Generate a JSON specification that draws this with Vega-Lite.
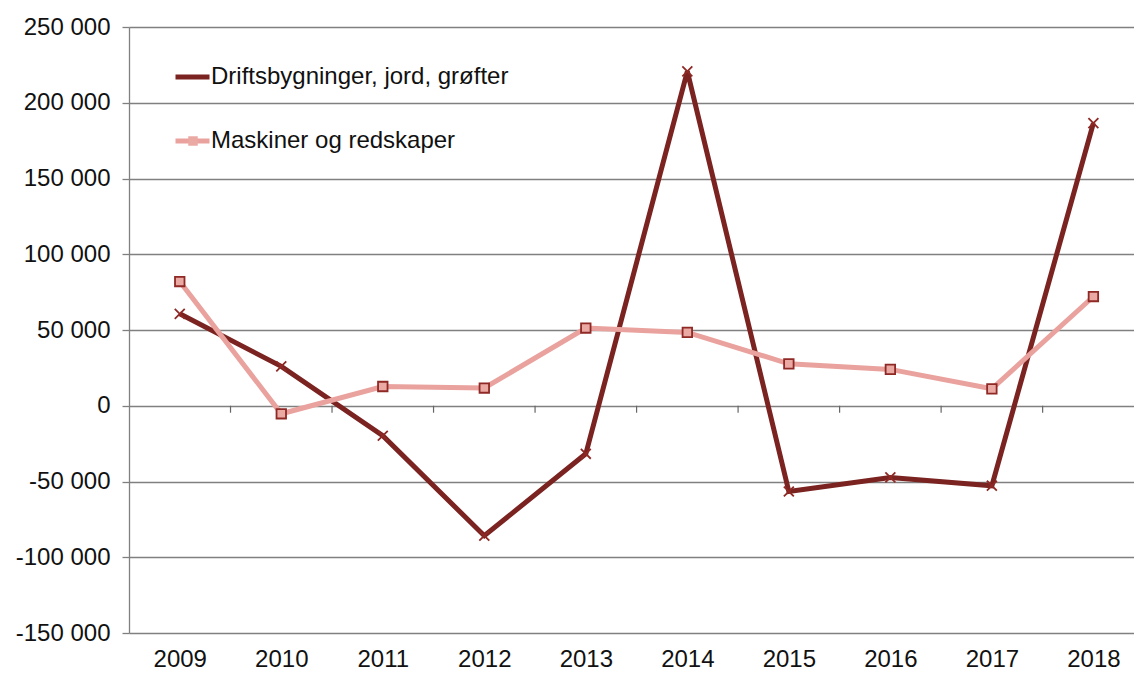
{
  "$schema": "https://vega.github.io/schema/vega-lite/v6.json",
  "width": 1005,
  "height": 606,
  "autosize": {"type": "none"},
  "padding": {"left": 129, "top": 27, "right": 0, "bottom": 42},
  "background": "white",
  "config": {
    "view": {"stroke": null},
    "font": "Liberation Sans",
    "axis": {"labelFont": "Liberation Sans", "labelFontSize": 24, "labelColor": "#111111"},
    "legend": {"labelFont": "Liberation Sans", "labelFontSize": 24, "labelColor": "#111111", "labelLimit": 600}
  },
  "datasets": {
    "series": [
      {"year": 2009, "series": "Driftsbygninger, jord, grøfter", "value": 60700},
      {"year": 2010, "series": "Driftsbygninger, jord, grøfter", "value": 26000},
      {"year": 2011, "series": "Driftsbygninger, jord, grøfter", "value": -19800},
      {"year": 2012, "series": "Driftsbygninger, jord, grøfter", "value": -85800},
      {"year": 2013, "series": "Driftsbygninger, jord, grøfter", "value": -31700},
      {"year": 2014, "series": "Driftsbygninger, jord, grøfter", "value": 220700},
      {"year": 2015, "series": "Driftsbygninger, jord, grøfter", "value": -56600},
      {"year": 2016, "series": "Driftsbygninger, jord, grøfter", "value": -47300},
      {"year": 2017, "series": "Driftsbygninger, jord, grøfter", "value": -52800},
      {"year": 2018, "series": "Driftsbygninger, jord, grøfter", "value": 186600},
      {"year": 2009, "series": "Maskiner og redskaper", "value": 82000},
      {"year": 2010, "series": "Maskiner og redskaper", "value": -5300},
      {"year": 2011, "series": "Maskiner og redskaper", "value": 12700},
      {"year": 2012, "series": "Maskiner og redskaper", "value": 11700},
      {"year": 2013, "series": "Maskiner og redskaper", "value": 51300},
      {"year": 2014, "series": "Maskiner og redskaper", "value": 48400},
      {"year": 2015, "series": "Maskiner og redskaper", "value": 27700},
      {"year": 2016, "series": "Maskiner og redskaper", "value": 24000},
      {"year": 2017, "series": "Maskiner og redskaper", "value": 11200},
      {"year": 2018, "series": "Maskiner og redskaper", "value": 72100}
    ],
    "boundaries": [
      {"b": 2009.5}, {"b": 2010.5}, {"b": 2011.5}, {"b": 2012.5}, {"b": 2013.5},
      {"b": 2014.5}, {"b": 2015.5}, {"b": 2016.5}, {"b": 2017.5}
    ]
  },
  "layer": [
    {
      "data": {"name": "boundaries"},
      "mark": {"type": "rule", "color": "#666666", "strokeWidth": 1.2},
      "encoding": {
        "x": {"field": "b", "type": "quantitative", "scale": {"domain": [2008.5, 2018.4], "nice": false, "zero": false},
          "axis": {"values": [2009, 2010, 2011, 2012, 2013, 2014, 2015, 2016, 2017, 2018], "format": "d", "title": null, "grid": false, "ticks": false, "domain": false, "labelPadding": 14}},
        "y": {"datum": 0, "type": "quantitative"},
        "y2": {"datum": -4600}
      }
    },
    {
      "data": {"name": "series"},
      "mark": {"type": "line", "strokeWidth": 5, "strokeJoin": "miter"},
      "encoding": {
        "x": {"field": "year", "type": "quantitative"},
        "y": {"field": "value", "type": "quantitative",
          "scale": {"domain": [-150000, 250000], "nice": false},
          "axis": {"values": [-150000, -100000, -50000, 0, 50000, 100000, 150000, 200000, 250000], "title": null,
            "grid": true, "gridColor": "#808080", "gridWidth": 1.3,
            "domainColor": "#808080", "domainWidth": 1.3, "tickColor": "#808080", "tickWidth": 1.3, "tickSize": 7,
            "labelPadding": 12,
            "labelExpr": "replace(replace(format(datum.value, ','), regexp(',', 'g'), ' '), '−', '-')"}},
        "color": {"field": "series", "type": "nominal",
          "scale": {"domain": ["Driftsbygninger, jord, grøfter", "Maskiner og redskaper"], "range": ["#7A2320", "#E9A29D"]},
          "legend": {"orient": "none", "legendX": 44, "legendY": 38, "title": null, "symbolType": "stroke", "symbolSize": 1156, "symbolStrokeWidth": 5, "rowPadding": 40, "clipHeight": 24, "labelOffset": -1}}
      }
    },
    {
      "data": {"name": "series"},
      "mark": {"type": "point", "size": 90, "stroke": "#8E2925", "strokeWidth": 1.8, "opacity": 1},
      "encoding": {
        "x": {"field": "year", "type": "quantitative"},
        "y": {"field": "value", "type": "quantitative"},
        "shape": {"field": "series", "type": "nominal",
          "scale": {"range": ["M-1.05,-1.05L1.05,1.05M-1.05,1.05L1.05,-1.05", "square"]},
          "legend": {"orient": "none", "legendX": 52, "legendY": 38, "title": null, "rowPadding": 40, "clipHeight": 24, "symbolSize": 90, "labelExpr": "''", "symbolStrokeColor": "#8E2925", "symbolStrokeWidth": 1.8}},
        "fill": {"field": "series", "type": "nominal",
          "scale": {"range": ["#7A2320", "#EBA9A4"]},
          "legend": {"orient": "none", "legendX": 52, "legendY": 38, "title": null, "rowPadding": 40, "clipHeight": 24, "symbolSize": 90, "labelExpr": "''", "symbolStrokeColor": "#8E2925", "symbolStrokeWidth": 1.8}}
      }
    }
  ]
}
